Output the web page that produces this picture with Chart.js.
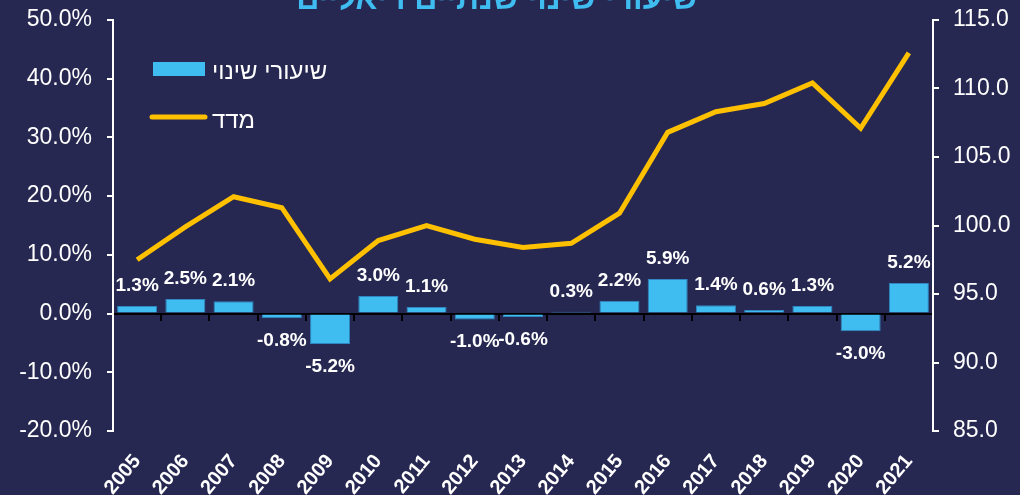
<!DOCTYPE html>
<html>
<head>
<meta charset="utf-8">
<script src="https://cdn.jsdelivr.net/npm/chart.js@4/dist/chart.umd.min.js"></script>
<style>
  html, body { margin: 0; padding: 0; background: #262851; }
  #wrap { width: 1020px; height: 495px; }
</style>
</head>
<body>
<div id="wrap"><canvas id="chart"></canvas></div>
<script>
// ===== Annual real change rates vs index =====

const years = ["2005", "2006", "2007", "2008", "2009", "2010", "2011", "2012", "2013",
               "2014", "2015", "2016", "2017", "2018", "2019", "2020", "2021"];
// annual change, percent
const changeRates = [1.3, 2.5, 2.1, -0.8, -5.2, 3.0, 1.1, -1.0, -0.6, 0.3, 2.2, 5.9, 1.4, 0.6, 1.3, -3.0, 5.2];
// index values (right axis)
const indexValues = [97.5, 99.9, 102.1, 101.3, 96.1, 98.9, 100.0, 99.0, 98.4, 98.7, 100.9, 106.8, 108.3, 108.9, 110.4, 107.1, 112.6];

const titleText = "שיעורי שינוי שנתיים ריאליים";
const barLabel = "שיעורי שינוי";
const lineLabel = "מדד";

const bgColor = "#262851";
const barColor = "#3fbcf0";
const lineColor = "#ffc000";
const FONT = "'Liberation Sans', Arial, sans-serif";

// background + cut-off title at the top
const backdrop = {
    id: "backdrop",
    beforeDraw(chart) {
        const ctx = chart.ctx;
        ctx.save();
        ctx.fillStyle = bgColor;
        ctx.fillRect(0, 0, chart.width, chart.height);
        ctx.fillStyle = barColor;
        ctx.font = "bold 32px " + FONT;
        ctx.textAlign = "center";
        ctx.textBaseline = "alphabetic";
        ctx.fillText(titleText, 497, 9);
        ctx.restore();
    }
};

// value labels above / below bars, and the legend box
const overlay = {
    id: "overlay",
    afterDatasetsDraw(chart) {
        const ctx = chart.ctx;
        const meta = chart.getDatasetMeta(0);
        ctx.save();
        ctx.fillStyle = "#ffffff";
        ctx.font = "bold 19px " + FONT;
        ctx.textAlign = "center";
        ctx.textBaseline = "alphabetic";
        meta.data.forEach((bar, i) => {
            const v = changeRates[i];
            const txt = v.toFixed(1) + "%";
            if (v >= 0) {
                ctx.fillText(txt, bar.x, bar.y - 15);
            } else {
                ctx.fillText(txt, bar.x, bar.y + 28);
            }
        });

        // legend
        ctx.fillStyle = barColor;
        ctx.fillRect(153, 62, 52, 14);
        ctx.strokeStyle = lineColor;
        ctx.lineWidth = 5;
        ctx.lineCap = "round";
        ctx.beginPath();
        ctx.moveTo(152, 117);
        ctx.lineTo(205, 117);
        ctx.stroke();
        ctx.fillStyle = "#ffffff";
        ctx.font = "24px " + FONT;
        ctx.textAlign = "left";
        ctx.fillText(barLabel, 212, 79);
        ctx.fillText(lineLabel, 212, 128);
        ctx.restore();
    }
};

// y axes: fixed width, no extra label padding above/below the plot
function fitY(width) {
    return scale => {
        scale.width = width;
        scale.paddingTop = 0;
        scale.paddingBottom = 0;
    };
}

const ctx = document.getElementById("chart").getContext("2d");
new Chart(ctx, {
    type: "bar",
    data: {
        labels: years,
        datasets: [
            {
                type: "bar",
                label: barLabel,
                data: changeRates,
                backgroundColor: barColor,
                borderColor: "#2f86c0",
                borderWidth: 1,
                barPercentage: 0.83,
                categoryPercentage: 1.0,
                yAxisID: "y",
                order: 1
            },
            {
                type: "line",
                label: lineLabel,
                data: indexValues,
                borderColor: lineColor,
                borderWidth: 5,
                borderJoinStyle: "miter",
                pointRadius: 0,
                tension: 0,
                fill: false,
                yAxisID: "y1",
                order: 0
            }
        ]
    },
    options: {
        responsive: true,
        maintainAspectRatio: false,
        animation: false,
        layout: { padding: { top: 20, left: 0, right: 0, bottom: 0 } },
        scales: {
            x: {
                offset: true,
                grid: { display: false, drawTicks: false },
                border: { display: false },
                ticks: {
                    color: "#ffffff",
                    font: { family: FONT, size: 20, weight: "bold" },
                    minRotation: 50,
                    maxRotation: 50,
                    padding: 19,
                    autoSkip: false
                },
                afterFit(scale) { scale.height = 64; }
            },
            x2: {
                type: "category",
                labels: years,
                position: { y: 0 },
                offset: true,
                grid: {
                    offset: true,
                    drawOnChartArea: false,
                    color: "#000000",
                    lineWidth: 2,
                    tickLength: 6
                },
                border: { display: true, color: "#000000", width: 2 },
                ticks: { display: false }
            },
            y: {
                position: "left",
                min: -20,
                max: 50,
                grid: { drawOnChartArea: false, color: "#ffffff", lineWidth: 2, tickLength: 6 },
                border: { display: true, color: "#ffffff", width: 2 },
                ticks: {
                    stepSize: 10,
                    color: "#ffffff",
                    padding: 15,
                    font: { family: FONT, size: 23 },
                    callback: v => v.toFixed(1) + "%"
                },
                afterFit: fitY(113)
            },
            y1: {
                position: "right",
                min: 85,
                max: 115,
                grid: { drawOnChartArea: false, color: "#ffffff", lineWidth: 2, tickLength: 6 },
                border: { display: true, color: "#ffffff", width: 2 },
                ticks: {
                    stepSize: 5,
                    color: "#ffffff",
                    padding: 14,
                    font: { family: FONT, size: 23 },
                    callback: v => v.toFixed(1)
                },
                afterFit: fitY(87)
            }
        },
        plugins: {
            legend: { display: false },
            tooltip: { enabled: false }
        }
    },
    plugins: [backdrop, overlay]
});
</script>
</body>
</html>
